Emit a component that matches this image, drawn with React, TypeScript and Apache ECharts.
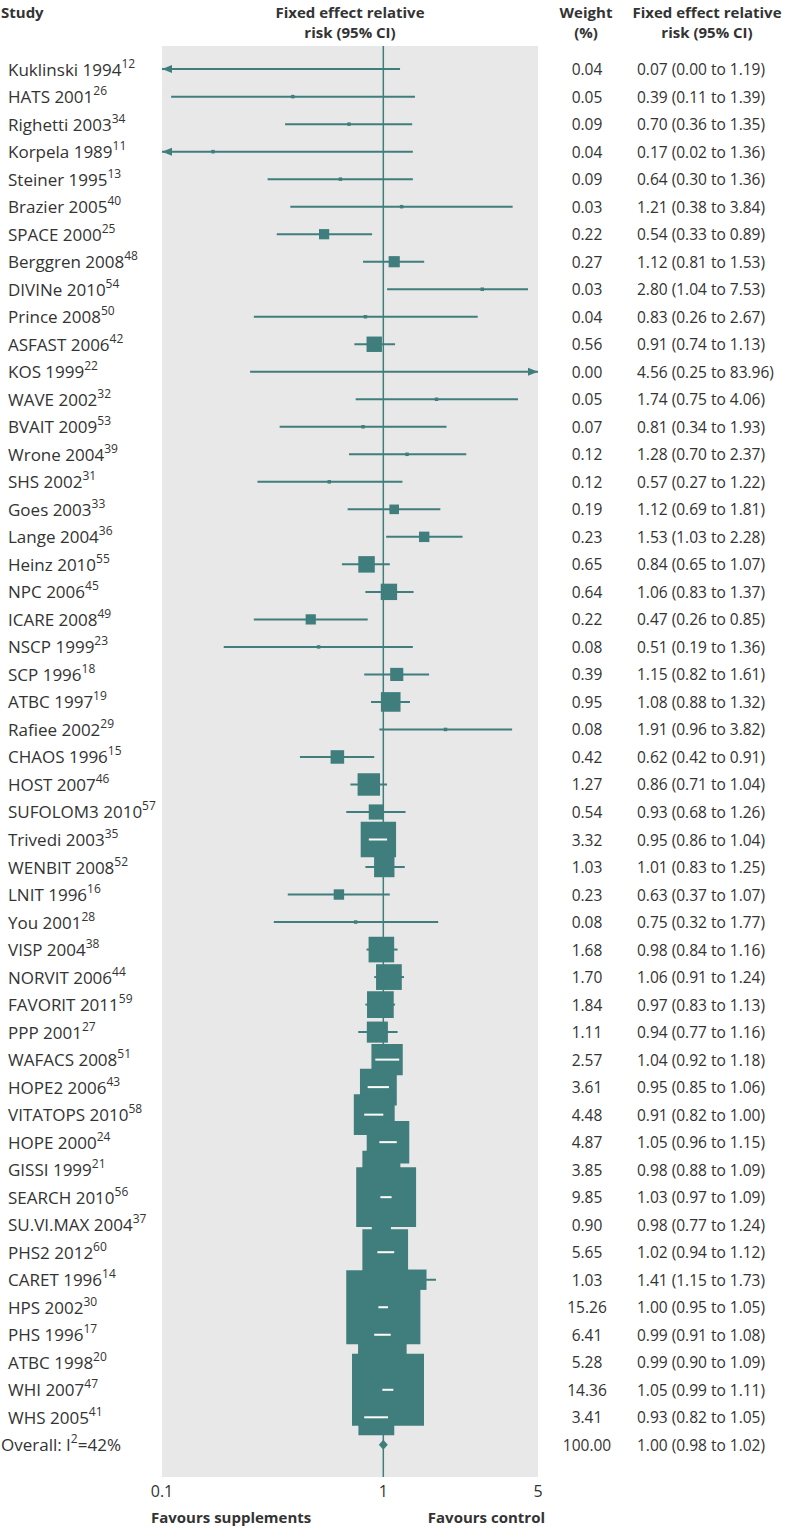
import React, { useEffect, useRef } from "react";
import * as echarts from "echarts";

const studyNames = [
  "Kuklinski 1994", "HATS 2001", "Righetti 2003", "Korpela 1989", "Steiner 1995",
  "Brazier 2005", "SPACE 2000", "Berggren 2008", "DIVINe 2010", "Prince 2008",
  "ASFAST 2006", "KOS 1999", "WAVE 2002", "BVAIT 2009", "Wrone 2004",
  "SHS 2002", "Goes 2003", "Lange 2004", "Heinz 2010", "NPC 2006",
  "ICARE 2008", "NSCP 1999", "SCP 1996", "ATBC 1997", "Rafiee 2002",
  "CHAOS 1996", "HOST 2007", "SUFOLOM3 2010", "Trivedi 2003", "WENBIT 2008",
  "LNIT 1996", "You 2001", "VISP 2004", "NORVIT 2006", "FAVORIT 2011",
  "PPP 2001", "WAFACS 2008", "HOPE2 2006", "VITATOPS 2010", "HOPE 2000",
  "GISSI 1999", "SEARCH 2010", "SU.VI.MAX 2004", "PHS2 2012", "CARET 1996",
  "HPS 2002", "PHS 1996", "ATBC 1998", "WHI 2007", "WHS 2005",
];
const studyRefs = [
  "12", "26", "34", "11", "13", "40", "25", "48", "54", "50",
  "42", "22", "32", "53", "39", "31", "33", "36", "55", "45",
  "49", "23", "18", "19", "29", "15", "46", "57", "35", "52",
  "16", "28", "38", "44", "59", "27", "51", "43", "58", "24",
  "21", "56", "37", "60", "14", "30", "17", "20", "47", "41",
];
const weights = [
  0.04, 0.05, 0.09, 0.04, 0.09, 0.03, 0.22, 0.27, 0.03, 0.04,
  0.56, 0.0, 0.05, 0.07, 0.12, 0.12, 0.19, 0.23, 0.65, 0.64,
  0.22, 0.08, 0.39, 0.95, 0.08, 0.42, 1.27, 0.54, 3.32, 1.03,
  0.23, 0.08, 1.68, 1.7, 1.84, 1.11, 2.57, 3.61, 4.48, 4.87,
  3.85, 9.85, 0.9, 5.65, 1.03, 15.26, 6.41, 5.28, 14.36, 3.41,
];
const relRisk = [
  0.07, 0.39, 0.7, 0.17, 0.64, 1.21, 0.54, 1.12, 2.8, 0.83,
  0.91, 4.56, 1.74, 0.81, 1.28, 0.57, 1.12, 1.53, 0.84, 1.06,
  0.47, 0.51, 1.15, 1.08, 1.91, 0.62, 0.86, 0.93, 0.95, 1.01,
  0.63, 0.75, 0.98, 1.06, 0.97, 0.94, 1.04, 0.95, 0.91, 1.05,
  0.98, 1.03, 0.98, 1.02, 1.41, 1.0, 0.99, 0.99, 1.05, 0.93,
];
const ciLower = [
  0.0, 0.11, 0.36, 0.02, 0.3, 0.38, 0.33, 0.81, 1.04, 0.26,
  0.74, 0.25, 0.75, 0.34, 0.7, 0.27, 0.69, 1.03, 0.65, 0.83,
  0.26, 0.19, 0.82, 0.88, 0.96, 0.42, 0.71, 0.68, 0.86, 0.83,
  0.37, 0.32, 0.84, 0.91, 0.83, 0.77, 0.92, 0.85, 0.82, 0.96,
  0.88, 0.97, 0.77, 0.94, 1.15, 0.95, 0.91, 0.9, 0.99, 0.82,
];
const ciUpper = [
  1.19, 1.39, 1.35, 1.36, 1.36, 3.84, 0.89, 1.53, 7.53, 2.67,
  1.13, 83.96, 4.06, 1.93, 2.37, 1.22, 1.81, 2.28, 1.07, 1.37,
  0.85, 1.36, 1.61, 1.32, 3.82, 0.91, 1.04, 1.26, 1.04, 1.25,
  1.07, 1.77, 1.16, 1.24, 1.13, 1.16, 1.18, 1.06, 1.0, 1.15,
  1.09, 1.09, 1.24, 1.12, 1.73, 1.05, 1.08, 1.09, 1.11, 1.05,
];
const overallLabel = ["Overall: I", "2", "=42%"];
const overallWeight = 100.0;
const overallRR = 1.0;
const overallLower = 0.98;
const overallUpper = 1.02;
const xTicks = [0.1, 1, 5];

const X_MIN = 0.1;
const X_MAX = 5;
const Y_MIN = -0.84;
const Y_MAX = 51.17;
const TEAL = "#3f7e7d";
const TEXT = "#333333";
const FONT = "'Open Sans', 'Noto Sans', sans-serif";

const fmt = (v: number) => v.toFixed(2);

export default function App() {
  const ref = useRef<HTMLDivElement>(null);
  useEffect(() => {
    const chart = echarts.init(ref.current!, null, { renderer: "svg" });
    const n = studyNames.length;
    const rows = studyNames.map((_, i) => [relRisk[i], i, ciLower[i], ciUpper[i], weights[i]]);

    const boxRender = (params: any, api: any) => {
      const est = api.value(0) as number;
      const row = api.value(1) as number;
      const lo = api.value(2) as number;
      const hi = api.value(3) as number;
      const w = api.value(4) as number;
      const y = api.coord([1, row])[1];
      let x0 = api.coord([Math.max(lo, X_MIN), row])[0];
      let x1 = api.coord([Math.min(hi, X_MAX), row])[0];
      const xc = api.coord([est, row])[0];
      const side = w <= 0 ? 0 : w < 0.15 ? 3.5 : 1.5 + 18.6 * Math.sqrt(w);
      const arrowLeft = lo < X_MIN / 2;
      const arrowRight = hi > X_MAX * 2;
      if (lo < X_MIN && !arrowLeft) x0 += 10;
      if (hi > X_MAX && !arrowRight) x1 -= 10;
      const children: any[] = [
        { type: "line", shape: { x1: x0, y1: y, x2: x1, y2: y }, style: { stroke: TEAL, lineWidth: 2 } },
      ];
      if (arrowLeft) {
        children.push({
          type: "polygon",
          shape: { points: [[x0, y], [x0 + 10, y - 4], [x0 + 10, y + 4]] },
          style: { fill: TEAL },
        });
      }
      if (arrowRight) {
        children.push({
          type: "polygon",
          shape: { points: [[x1, y], [x1 - 10, y - 4], [x1 - 10, y + 4]] },
          style: { fill: TEAL },
        });
      }
      if (side > 0) {
        children.push({
          type: "rect",
          shape: { x: xc - side / 2, y: y - side / 2, width: side, height: side },
          style: { fill: TEAL },
        });
        if (x0 >= xc - side / 2 && x1 <= xc + side / 2) {
          children.push({
            type: "line",
            shape: { x1: x0, y1: y, x2: x1, y2: y },
            style: { stroke: "#ffffff", lineWidth: 2 },
          });
        }
      }
      return { type: "group", children };
    };

    const richStyles = {
      n: { fontSize: 17, fontFamily: FONT, lineHeight: 24, fill: TEXT },
      s: { fontSize: 12, fontFamily: FONT, lineHeight: 12, verticalAlign: "top", fill: TEXT },
    };

    const rowTexts = (y: number, label: string, x: number, wText: string, rrText: string) => [
      {
        type: "text",
        x,
        y,
        style: { text: label, fill: TEXT, align: "left", verticalAlign: "middle", rich: richStyles },
      },
      {
        type: "text",
        x: 587,
        y,
        style: {
          text: wText,
          fill: TEXT,
          fontSize: 15.5,
          fontFamily: FONT,
          align: "center",
          verticalAlign: "middle",
        },
      },
      {
        type: "text",
        x: 637,
        y,
        style: {
          text: rrText,
          fill: TEXT,
          fontSize: 15.5,
          fontFamily: FONT,
          align: "left",
          verticalAlign: "middle",
        },
      },
    ];

    const labelRender = (params: any, api: any) => {
      const i = params.dataIndex;
      const y = api.coord([1, api.value(1)])[1];
      return {
        type: "group",
        children: rowTexts(
          y,
          `{n|${studyNames[i]}}{s|${studyRefs[i]}}`,
          8,
          fmt(weights[i]),
          `${fmt(relRisk[i])} (${fmt(ciLower[i])} to ${fmt(ciUpper[i])})`
        ),
      };
    };

    const overallRender = (params: any, api: any) => {
      const row = api.value(1) as number;
      const y = api.coord([1, row])[1];
      const xc = api.coord([api.value(0), row])[0];
      const xl = api.coord([api.value(2), row])[0];
      const xr = api.coord([api.value(3), row])[0];
      const hw = Math.max((xr - xl) / 2, 4.5);
      return {
        type: "group",
        children: [
          {
            type: "polygon",
            shape: { points: [[xc - hw, y], [xc, y - 5], [xc + hw, y], [xc, y + 5]] },
            style: { fill: TEAL },
          },
        ],
      };
    };

    const overallTextRender = (params: any, api: any) => {
      const y = api.coord([1, api.value(1)])[1];
      return {
        type: "group",
        children: rowTexts(
          y,
          `{n|${overallLabel[0]}}{s|${overallLabel[1]}}{n|${overallLabel[2]}}`,
          1,
          fmt(overallWeight),
          `${fmt(overallRR)} (${fmt(overallLower)} to ${fmt(overallUpper)})`
        ),
      };
    };

    const tickRender = (params: any, api: any) => {
      const v = api.value(0) as number;
      const p = api.coord([v, api.value(1)]);
      return {
        type: "text",
        x: p[0],
        y: p[1] + 14,
        style: {
          text: String(v),
          fill: TEXT,
          fontSize: 16,
          fontFamily: FONT,
          align: "center",
          verticalAlign: "middle",
        },
      };
    };

    const headerText = (text: string, x: number, y: number, align: string) => ({
      type: "text",
      x,
      y,
      style: {
        text,
        fill: TEXT,
        font: `bold 15px ${FONT}`,
        textAlign: align,
        textVerticalAlign: "middle",
        align,
        verticalAlign: "middle",
      },
    });

    chart.setOption({
      animation: false,
      grid: {
        left: 162,
        right: 252,
        top: 46,
        bottom: 51,
        show: true,
        backgroundColor: "#e8e8e8",
        borderWidth: 0,
        containLabel: false,
        outerBoundsMode: "none",
      },
      xAxis: {
        type: "log",
        logBase: 10,
        min: X_MIN,
        max: X_MAX,
        axisLine: { show: false },
        axisTick: { show: false },
        axisLabel: { show: false },
        splitLine: { show: false },
      },
      yAxis: {
        type: "value",
        inverse: true,
        min: Y_MIN,
        max: Y_MAX,
        show: false,
        splitLine: { show: false },
      },
      graphic: [
        headerText("Study", 1, 12, "left"),
        headerText("Fixed effect relative", 350, 12, "center"),
        headerText("risk (95% CI)", 350, 32, "center"),
        headerText("Weight", 586, 12, "center"),
        headerText("(%)", 586, 32, "center"),
        headerText("Fixed effect relative", 707, 12, "center"),
        headerText("risk (95% CI)", 707, 32, "center"),
        headerText("Favours supplements", 151, 1517, "left"),
        headerText("Favours control", 545, 1517, "right"),
      ],
      series: [
        {
          type: "line",
          data: [[1, Y_MIN], [1, Y_MAX]],
          symbol: "none",
          lineStyle: { color: TEAL, width: 1.5 },
          z: 1,
          silent: true,
        },
        {
          type: "custom",
          data: rows,
          renderItem: boxRender,
          encode: { x: 0, y: 1 },
          clip: true,
          z: 2,
          silent: true,
        },
        {
          type: "custom",
          data: [[overallRR, n, overallLower, overallUpper]],
          renderItem: overallRender,
          encode: { x: 0, y: 1 },
          z: 3,
          silent: true,
        },
        {
          type: "custom",
          data: rows.map((r) => [1, r[1]]),
          renderItem: labelRender,
          encode: { x: 0, y: 1 },
          clip: false,
          z: 4,
          silent: true,
        },
        {
          type: "custom",
          data: [[1, n]],
          renderItem: overallTextRender,
          encode: { x: 0, y: 1 },
          clip: false,
          z: 4,
          silent: true,
        },
        {
          type: "custom",
          data: xTicks.map((v) => [v, Y_MAX]),
          renderItem: tickRender,
          encode: { x: 0, y: 1 },
          clip: false,
          z: 4,
          silent: true,
        },
      ],
    });
    return () => chart.dispose();
  }, []);
  return (
    <div
      ref={ref}
      style={{ position: "absolute", left: 0, top: 0, width: 790, height: 1528 }}
    />
  );
}
